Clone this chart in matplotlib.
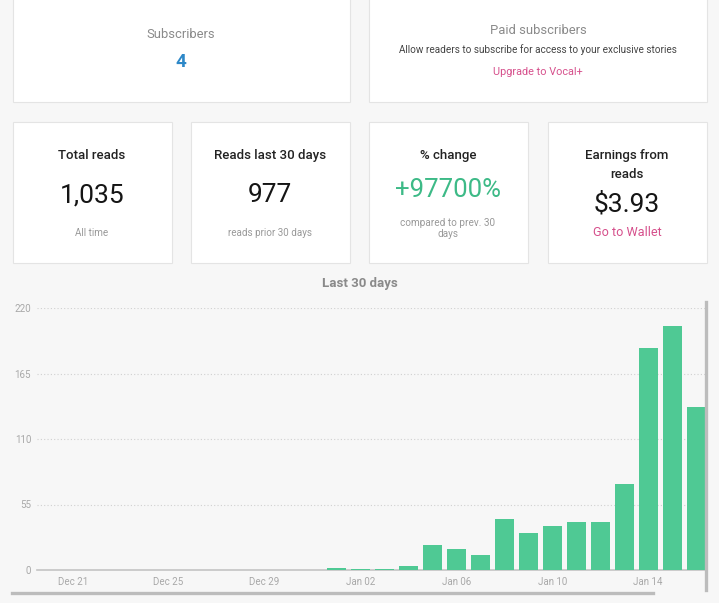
import matplotlib
matplotlib.use("Agg")
import matplotlib.pyplot as plt
from matplotlib.patches import Rectangle
from matplotlib.lines import Line2D

plt.rcParams['font.family'] = ['Roboto', 'DejaVu Sans']

# data
days = ['Dec 20', 'Dec 21', 'Dec 22', 'Dec 23', 'Dec 24', 'Dec 25', 'Dec 26',
        'Dec 27', 'Dec 28', 'Dec 29', 'Dec 30', 'Dec 31', 'Jan 01', 'Jan 02',
        'Jan 03', 'Jan 04', 'Jan 05', 'Jan 06', 'Jan 07', 'Jan 08', 'Jan 09',
        'Jan 10', 'Jan 11', 'Jan 12', 'Jan 13', 'Jan 14', 'Jan 15', 'Jan 16']
reads = [0, 0, 0, 0, 0, 0, 0,
         0, 0, 0, 0, 0, 2, 1,
         1, 3, 21, 18, 13, 43, 31,
         37, 40, 40, 72, 186, 205, 137]
shown_days = ['Dec 21', 'Dec 25', 'Dec 29', 'Jan 02', 'Jan 06', 'Jan 10', 'Jan 14']
y_ticks = [0, 55, 110, 165, 220]

W, H = 719, 603
fig = plt.figure(figsize=(W / 100, H / 100), dpi=100)
fig.patch.set_facecolor('#f7f7f7')

def fx(x):
    return x / W

def fy(y):
    return 1 - y / H

def card(x0, y0, x1, y1):
    fig.add_artist(Rectangle((fx(x0), fy(y1)), fx(x1) - fx(x0), fy(y0) - fy(y1),
                             transform=fig.transFigure, facecolor='white',
                             edgecolor='#e4e4e4', linewidth=0.8, zorder=0))

def txt(x, y, s, size, color='#222222', weight='normal'):
    fig.text(fx(x), fy(y), s, fontsize=size, color=color, weight=weight,
             ha='center', va='center')

# cards
card(12.5, -10, 350, 101.5)
card(369, -10, 706.5, 101.5)
card(12.5, 121.5, 171.5, 262.5)
card(191, 121.5, 350, 262.5)
card(369, 121.5, 527.5, 262.5)
card(547.5, 121.5, 706.5, 262.5)

pink = '#d6508c'
txt(181, 34, 'Subscribers', 9.4, '#8a8a8a')
txt(181, 62, '4', 13.5, '#2d88c8', 'bold')
txt(538, 30, 'Paid subscribers', 9.4, '#8a8a8a')
txt(538, 50, 'Allow readers to subscribe for access to your exclusive stories', 7.2, '#444444')
txt(538, 72, 'Upgrade to Vocal+', 7.8, pink)

txt(92, 155, 'Total reads', 9.5, '#222222', 'medium')
txt(92, 195, '1,035', 19, '#151515')
txt(92, 233, 'All time', 7.1, '#999999')

txt(270, 155, 'Reads last 30 days', 9.5, '#222222', 'medium')
txt(270, 195, '977', 19, '#151515')
txt(270, 233, 'reads prior 30 days', 7.1, '#999999')

txt(448, 155, '% change', 9.5, '#222222', 'medium')
txt(448, 190, '+97700%', 18.5, '#3dba87')
txt(448, 223, 'compared to prev. 30', 7.2, '#999999')
txt(448, 234, 'days', 7.2, '#999999')

txt(627, 155, 'Earnings from', 9.5, '#222222', 'medium')
txt(627, 174, 'reads', 9.5, '#222222', 'medium')
txt(627, 204, '$3.93', 19, '#151515')
txt(627, 233, 'Go to Wallet', 9.1, pink)

txt(359.5, 283, 'Last 30 days', 9.5, '#8a8a8a', 'bold')

# bar chart
ax = fig.add_axes([fx(36.7), fy(570), fx(705.7) - fx(36.7), fy(308) - fy(570)])
ax.set_facecolor('none')
x = list(range(len(days)))
ax.bar(x, reads, width=0.8, color='#4fc994', zorder=3)
ax.set_xlim(-0.5, 27.4)
ax.set_ylim(0, 220)
ax.set_yticks(y_ticks)
ax.set_yticklabels([str(v) for v in y_ticks])
ax.set_xticks([days.index(d) for d in shown_days])
ax.set_xticklabels(shown_days)
ax.tick_params(length=0, labelsize=7, labelcolor='#a8a8a8', pad=4)
ax.tick_params(axis='x', pad=5)
for v in y_ticks[1:]:
    ax.axhline(v, color='#d0d0d0', linestyle=(0, (1, 2)), linewidth=0.8, zorder=1)
for side in ['top', 'right', 'left']:
    ax.spines[side].set_visible(False)
ax.spines['bottom'].set_color('#c4c4c4')
ax.spines['bottom'].set_linewidth(1.2)

# scroll bars
fig.add_artist(Line2D([fx(12), fx(653)], [fy(593), fy(593)], color='#bcbcbc',
                      linewidth=2.4, transform=fig.transFigure))
fig.add_artist(Line2D([fx(706), fx(706)], [fy(302), fy(590)], color='#bcbcbc',
                      linewidth=2.4, transform=fig.transFigure))

fig.savefig('out.png', dpi=100, facecolor=fig.get_facecolor())
